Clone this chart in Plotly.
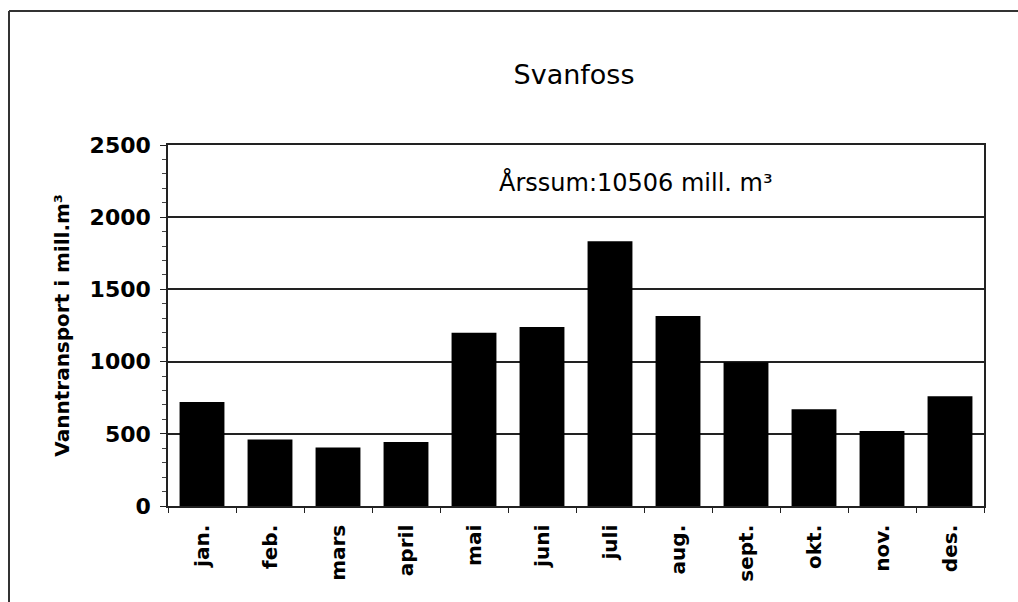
import plotly.graph_objects as go

# Svanfoss — maanedlig vanntransport (mill. m3)
months = ["jan.", "feb.", "mars", "april", "mai", "juni",
          "juli", "aug.", "sept.", "okt.", "nov.", "des."]
vanntransport = [721, 460, 405, 444, 1199, 1240, 1834, 1315, 995, 670, 520, 760]
y_ticks = [0, 500, 1000, 1500, 2000, 2500]

FONT = "DejaVu Sans"
W, H = 1018, 602
L, T = 168, 145
R, B = W - 984, H - 506


def px_to_paper(px, py):
    """Sidepiksler -> paper-koordinater for plottomraadet."""
    return (px - L) / (W - L - R), (H - B - py) / (H - T - B)


fig = go.Figure()
fig.add_trace(go.Bar(
    x=months, y=vanntransport,
    marker=dict(color="black", line=dict(width=0)),
    showlegend=False,
))

axis_line = dict(showline=True, linecolor="#222", linewidth=1.5, mirror=True)

fig.update_layout(
    width=W, height=H,
    margin=dict(l=L, r=R, t=T, b=B),
    paper_bgcolor="white", plot_bgcolor="white",
    font=dict(family=FONT, color="black"),
    bargap=0.34,
    title=dict(text="Svanfoss", font=dict(size=27, family=FONT),
               xref="container", x=574 / W, xanchor="center",
               yref="container", y=1 - 75 / H, yanchor="middle"),
    xaxis=dict(
        **axis_line,
        tickangle=-90,
        tickfont=dict(size=20, family=FONT, weight="bold"),
        ticks="outside", ticklen=5, tickcolor="#222", tickson="boundaries",
        ticklabelstandoff=9,
        showgrid=False,
    ),
    yaxis=dict(
        **axis_line,
        range=[0, 2500],
        tickvals=y_ticks,
        tickfont=dict(size=22, family=FONT, weight="bold"),
        ticks="outside", ticklen=6, tickcolor="#222",
        ticklabelstandoff=5,
        showgrid=True, gridcolor="#222", gridwidth=1.5,
        minor=dict(dtick=100, ticks="outside", ticklen=4, tickcolor="#444",
                   showgrid=False),
        title=dict(text="Vanntransport i mill.m³",
                   font=dict(size=20, family=FONT, weight="bold"),
                   standoff=15),
        zeroline=False,
    ),
)

ax, ay = px_to_paper(636, 182)
fig.add_annotation(
    text="Årssum:10506 mill. m³", xref="paper", yref="paper",
    x=ax, y=ay, xanchor="center", yanchor="middle", showarrow=False,
    font=dict(size=24, family=FONT, color="black"),
)

# ramme rundt diagrammet (topp og venstre side synlig)
x0, y0 = px_to_paper(9, 11)
x1, y1 = px_to_paper(W + 20, H + 20)
fig.add_shape(type="line", xref="paper", yref="paper",
              x0=x0, y0=y0, x1=x1, y1=y0, line=dict(color="#333", width=2))
fig.add_shape(type="line", xref="paper", yref="paper",
              x0=x0, y0=y0, x1=x0, y1=y1, line=dict(color="#333", width=2))

# fjern standard body-marg slik at figuren fyller vinduet
fig.write_html("out.html", config=dict(displayModeBar=False),
               post_script="document.body.style.margin='0';"
                           "document.body.style.overflow='hidden';")
